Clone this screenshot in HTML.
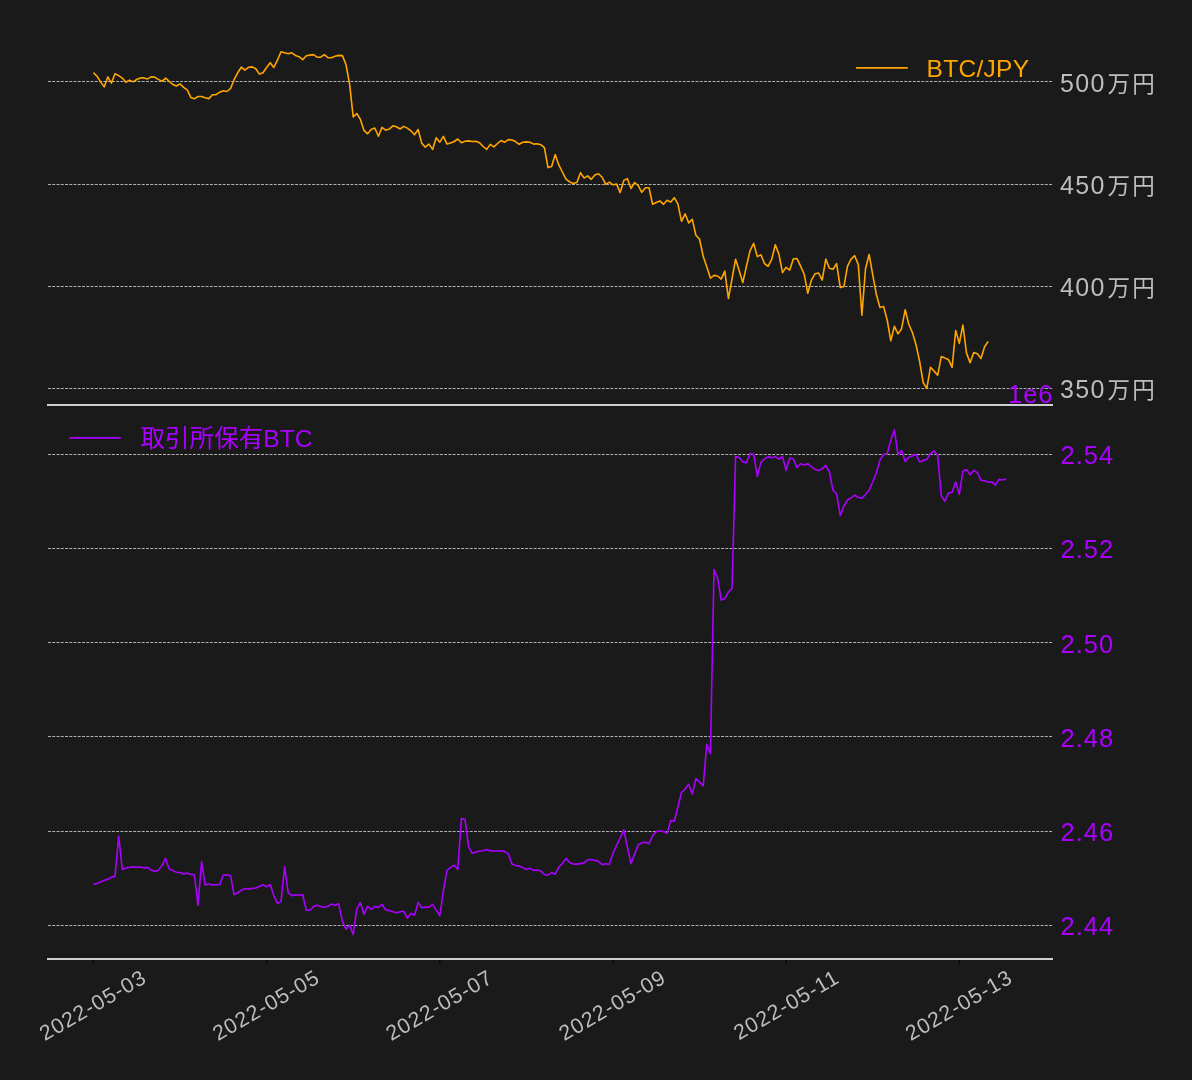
<!DOCTYPE html>
<html lang="ja">
<head>
<meta charset="utf-8">
<title>BTC/JPY と 取引所保有BTC</title>
<style>
html,body{margin:0;padding:0;background:#1a1a1a;}
body{width:1192px;height:1080px;overflow:hidden;}
svg{display:block;}
text{font-family:"Liberation Sans", "Noto Sans CJK JP", sans-serif;font-weight:400;}
.g{stroke:#c6c6c6;stroke-width:0.88;stroke-dasharray:2.95 1.31;fill:none;}
.ax{stroke:#cecece;stroke-width:2;fill:none;}
.tk{stroke:#050505;stroke-width:1.1;}
.yl{fill:#bdbdbd;font-size:25px;letter-spacing:1.4px;}
.yl .c{font-size:22.5px;font-weight:400;letter-spacing:2.3px;}
.pl{fill:#aa00ff;font-size:25.5px;letter-spacing:1.0px;}
.xl{fill:#bdbdbd;font-size:21.3px;text-anchor:end;letter-spacing:1.05px;}
</style>
</head>
<body>
<svg width="1192" height="1080" viewBox="0 0 1192 1080">
<rect x="0" y="0" width="1192" height="1080" fill="#1a1a1a"/>
<line class="g" x1="48" y1="81.5" x2="1053.2" y2="81.5"/>
<line class="g" x1="48" y1="184.5" x2="1053.2" y2="184.5"/>
<line class="g" x1="48" y1="286.5" x2="1053.2" y2="286.5"/>
<line class="g" x1="48" y1="388.5" x2="1053.2" y2="388.5"/>
<line class="g" x1="48" y1="454.5" x2="1053.2" y2="454.5"/>
<line class="g" x1="48" y1="548.5" x2="1053.2" y2="548.5"/>
<line class="g" x1="48" y1="642.5" x2="1053.2" y2="642.5"/>
<line class="g" x1="48" y1="736.5" x2="1053.2" y2="736.5"/>
<line class="g" x1="48" y1="831.5" x2="1053.2" y2="831.5"/>
<line class="g" x1="48" y1="925.5" x2="1053.2" y2="925.5"/>
<polyline fill="none" stroke="#ffa500" stroke-width="1.6" stroke-linejoin="round" points="93.4,72.6 97.0,76.3 100.6,81.9 104.2,86.9 107.8,76.9 111.4,83.1 115.0,73.7 118.7,75.6 122.3,78.1 125.9,82.3 129.5,80.1 133.1,81.9 136.7,79.5 140.3,78.0 143.9,77.9 147.5,78.9 151.1,76.9 154.7,77.1 158.3,79.4 162.0,81.3 165.6,78.1 169.2,81.4 172.8,84.5 176.4,86.0 180.0,83.9 183.6,87.3 187.2,89.8 190.8,97.4 194.4,98.8 198.0,96.5 201.6,96.5 205.2,97.8 208.9,98.6 212.5,94.7 216.1,94.6 219.7,92.2 223.3,90.7 226.9,91.5 230.5,88.6 234.1,79.7 237.7,72.8 241.3,67.2 244.9,70.1 248.5,67.3 252.2,66.9 255.8,68.8 259.4,74.1 263.0,72.8 266.6,67.5 270.2,62.7 273.8,67.5 277.4,60.2 281.0,51.8 284.6,52.7 288.2,53.7 291.8,52.8 295.4,55.4 299.1,56.7 302.7,59.6 306.3,55.8 309.9,55.1 313.5,54.6 317.1,57.2 320.7,57.2 324.3,54.7 327.9,57.7 331.5,57.7 335.1,56.2 338.7,55.4 342.4,55.6 346.0,64.6 349.6,84.2 353.2,116.9 356.8,113.5 360.4,119.4 364.0,130.4 367.6,133.8 371.2,129.6 374.8,128.0 378.4,136.3 382.0,127.4 385.6,130.2 389.3,129.1 392.9,125.9 396.5,126.8 400.1,129.0 403.7,126.4 407.3,128.1 410.9,130.8 414.5,134.8 418.1,129.5 421.7,143.1 425.3,147.2 428.9,144.1 432.6,149.4 436.2,137.7 439.8,142.2 443.4,136.4 447.0,144.1 450.6,142.9 454.2,141.5 457.8,139.0 461.4,142.7 465.0,141.2 468.6,140.9 472.2,141.5 475.8,141.2 479.5,142.7 483.1,146.5 486.7,149.4 490.3,144.4 493.9,146.9 497.5,143.5 501.1,140.6 504.7,142.2 508.3,139.6 511.9,140.0 515.5,141.6 519.1,144.3 522.8,142.2 526.4,141.9 530.0,142.3 533.6,144.1 537.2,143.8 540.8,144.7 544.4,147.6 548.0,167.6 551.6,166.4 555.2,154.5 558.8,164.9 562.4,172.0 566.0,179.1 569.7,181.9 573.3,183.5 576.9,182.5 580.5,172.7 584.1,178.1 587.7,175.9 591.3,179.3 594.9,175.1 598.5,173.7 602.1,177.2 605.7,184.4 609.3,182.1 613.0,184.8 616.6,184.1 620.2,192.6 623.8,180.4 627.4,178.7 631.0,188.5 634.6,182.5 638.2,185.6 641.8,192.3 645.4,187.7 649.0,187.7 652.6,204.3 656.2,202.5 659.9,200.9 663.5,204.3 667.1,200.2 670.7,202.1 674.3,197.7 677.9,203.8 681.5,221.3 685.1,213.8 688.7,222.9 692.3,219.4 695.9,235.2 699.5,239.0 703.2,256.3 706.8,267.0 710.4,278.1 714.0,275.4 717.6,276.0 721.2,279.1 724.8,271.1 728.4,298.5 732.0,278.9 735.6,259.2 739.2,270.8 742.8,282.5 746.4,266.3 750.1,250.6 753.7,243.4 757.3,256.6 760.9,254.8 764.5,263.5 768.1,266.3 771.7,259.4 775.3,244.7 778.9,254.1 782.5,272.6 786.1,267.3 789.7,270.1 793.4,258.7 797.0,258.6 800.6,266.1 804.2,274.3 807.8,293.3 811.4,280.1 815.0,273.8 818.6,273.0 822.2,280.1 825.8,259.1 829.4,268.3 833.0,269.2 836.6,263.7 840.3,287.6 843.9,286.6 847.5,266.2 851.1,259.1 854.7,255.7 858.3,264.6 861.9,315.3 865.5,269.0 869.1,254.5 872.7,274.6 876.3,294.2 879.9,307.4 883.6,306.4 887.2,320.0 890.8,340.8 894.4,326.3 898.0,333.9 901.6,328.7 905.2,309.7 908.8,324.3 912.4,332.5 916.0,344.7 919.6,361.3 923.2,382.5 926.8,388.4 930.5,367.2 934.1,371.1 937.7,375.2 941.3,356.6 944.9,357.9 948.5,359.7 952.1,367.4 955.7,330.5 959.3,343.4 962.9,325.0 966.5,353.1 970.1,362.6 973.8,352.5 977.4,353.8 981.0,358.5 984.6,346.8 988.2,341.4"/>
<polyline fill="none" stroke="#aa00ff" stroke-width="1.6" stroke-linejoin="round" points="93.4,884.2 97.0,883.6 100.6,882.0 104.2,880.2 107.8,879.2 111.4,877.1 115.0,876.4 118.7,836.1 122.3,869.4 125.9,868.1 129.5,867.2 133.1,866.9 136.7,867.2 140.3,867.0 143.9,867.9 147.5,867.4 151.1,870.0 154.7,871.3 158.3,870.4 162.0,865.3 165.6,858.4 169.2,869.1 172.8,870.6 176.4,872.3 180.0,872.6 183.6,873.9 187.2,873.1 190.8,874.4 194.4,874.8 198.0,905.4 201.6,861.6 205.2,884.9 208.9,884.0 212.5,885.0 216.1,884.7 219.7,884.7 223.3,875.0 226.9,874.8 230.5,875.7 234.1,894.6 237.7,893.0 241.3,890.2 244.9,888.6 248.5,889.3 252.2,888.4 255.8,888.0 259.4,886.5 263.0,884.7 266.6,886.8 270.2,884.5 273.8,895.6 277.4,903.4 281.0,901.6 284.6,866.6 288.2,892.7 291.8,895.6 295.4,894.7 299.1,895.3 302.7,894.7 306.3,910.3 309.9,910.3 313.5,906.6 317.1,905.3 320.7,906.6 324.3,907.2 327.9,906.3 331.5,904.0 335.1,905.3 338.7,903.8 342.4,921.4 346.0,929.2 349.6,925.2 353.2,934.4 356.8,908.8 360.4,902.5 364.0,914.2 367.6,906.4 371.2,909.4 374.8,906.5 378.4,907.4 382.0,904.3 385.6,909.9 389.3,910.6 392.9,911.8 396.5,912.7 400.1,911.7 403.7,911.2 407.3,918.1 410.9,913.4 414.5,915.2 418.1,902.4 421.7,907.8 425.3,907.1 428.9,907.1 432.6,904.3 436.2,910.2 439.8,915.6 443.4,890.7 447.0,870.3 450.6,867.4 454.2,865.1 457.8,869.5 461.4,818.6 465.0,819.3 468.6,846.6 472.2,853.3 475.8,852.3 479.5,851.0 483.1,850.8 486.7,849.5 490.3,850.9 493.9,851.0 497.5,851.0 501.1,850.8 504.7,851.6 508.3,853.6 511.9,863.9 515.5,865.5 519.1,866.1 522.8,867.6 526.4,869.5 530.0,868.2 533.6,870.4 537.2,870.1 540.8,871.1 544.4,874.5 548.0,875.2 551.6,872.6 555.2,874.2 558.8,867.2 562.4,863.5 566.0,858.4 569.7,862.6 573.3,864.1 576.9,864.1 580.5,863.6 584.1,862.9 587.7,859.8 591.3,859.5 594.9,860.4 598.5,861.3 602.1,864.7 605.7,863.8 609.3,864.3 613.0,853.4 616.6,845.3 620.2,838.0 623.8,829.8 627.4,847.1 631.0,863.8 634.6,854.1 638.2,844.9 641.8,843.0 645.4,842.1 649.0,843.7 652.6,835.6 656.2,831.7 659.9,830.9 663.5,831.5 667.1,833.4 670.7,820.6 674.3,821.2 677.9,807.0 681.5,792.5 685.1,789.1 688.7,784.3 692.3,794.1 695.9,778.6 699.5,782.0 703.2,785.9 706.8,744.4 710.4,753.5 714.0,569.6 717.6,577.8 721.2,600.1 724.8,598.6 728.4,592.0 732.0,588.7 735.6,456.5 739.2,457.5 742.8,461.9 746.4,462.6 750.1,453.5 753.7,454.4 757.3,476.3 760.9,462.6 764.5,458.8 768.1,456.9 771.7,457.8 775.3,456.6 778.9,459.2 782.5,456.5 786.1,470.4 789.7,458.0 793.4,459.0 797.0,467.6 800.6,463.7 804.2,465.0 807.8,463.7 811.4,466.6 815.0,469.4 818.6,470.6 822.2,468.7 825.8,465.3 829.4,472.0 833.0,490.3 836.6,493.9 840.3,515.7 843.9,506.0 847.5,500.0 851.1,497.9 854.7,495.0 858.3,497.5 861.9,498.1 865.5,494.5 869.1,490.2 872.7,482.0 876.3,473.0 879.9,460.4 883.6,454.3 887.2,453.8 890.8,440.2 894.4,429.9 898.0,454.7 901.6,450.6 905.2,461.6 908.8,457.2 912.4,456.0 916.0,454.3 919.6,461.9 923.2,460.4 926.8,459.5 930.5,453.5 934.1,450.9 937.7,455.6 941.3,495.9 944.9,501.3 948.5,493.1 952.1,492.2 955.7,481.9 959.3,494.4 962.9,471.2 966.5,469.5 970.1,474.6 973.8,470.4 977.4,472.6 981.0,480.3 984.6,480.7 988.2,482.3 991.8,481.8 995.4,485.1 999.0,479.4 1002.6,480.0 1006.2,478.7"/>
<line class="ax" x1="47" y1="405" x2="1053" y2="405"/>
<line class="ax" x1="47" y1="959" x2="1053" y2="959"/>
<line class="tk" x1="93.4" y1="960" x2="93.4" y2="964"/>
<line class="tk" x1="266.6" y1="960" x2="266.6" y2="964"/>
<line class="tk" x1="439.8" y1="960" x2="439.8" y2="964"/>
<line class="tk" x1="613.0" y1="960" x2="613.0" y2="964"/>
<line class="tk" x1="786.2" y1="960" x2="786.2" y2="964"/>
<line class="tk" x1="959.4" y1="960" x2="959.4" y2="964"/>
<text class="yl" x="1060" y="92.0">500<tspan class="c" x="1107.5" dy="-0.5">万円</tspan></text>
<text class="yl" x="1060" y="194.0">450<tspan class="c" x="1107.5" dy="-0.5">万円</tspan></text>
<text class="yl" x="1060" y="296.0">400<tspan class="c" x="1107.5" dy="-0.5">万円</tspan></text>
<text class="yl" x="1060" y="398.0">350<tspan class="c" x="1107.5" dy="-0.5">万円</tspan></text>
<text class="pl" x="1060.5" y="464.0">2.54</text>
<text class="pl" x="1060.5" y="558.0">2.52</text>
<text class="pl" x="1060.5" y="653.0">2.50</text>
<text class="pl" x="1060.5" y="747.0">2.48</text>
<text class="pl" x="1060.5" y="841.0">2.46</text>
<text class="pl" x="1060.5" y="935.0">2.44</text>
<text class="pl" x="1053.5" y="403" text-anchor="end" style="letter-spacing:1px;font-size:25.5px">1e6</text>
<line x1="856.1" y1="67.8" x2="907.8" y2="67.8" stroke="#ffa500" stroke-width="1.7"/>
<text x="926.5" y="76.6" fill="#ffa500" font-size="24.5" letter-spacing="0.3">BTC/JPY</text>
<line x1="69.3" y1="437.9" x2="120.8" y2="437.9" stroke="#aa00ff" stroke-width="1.7"/>
<text x="140.4" y="446.5" fill="#aa00ff" font-size="24.6" font-weight="400">取引所保有BTC</text>
<text class="xl" transform="translate(148.2,981.6) rotate(-30)">2022-05-03</text>
<text class="xl" transform="translate(321.4,981.6) rotate(-30)">2022-05-05</text>
<text class="xl" transform="translate(494.6,981.6) rotate(-30)">2022-05-07</text>
<text class="xl" transform="translate(667.8,981.6) rotate(-30)">2022-05-09</text>
<text class="xl" transform="translate(841.0,981.6) rotate(-30)">2022-05-11</text>
<text class="xl" transform="translate(1014.2,981.6) rotate(-30)">2022-05-13</text>
</svg>
</body>
</html>
